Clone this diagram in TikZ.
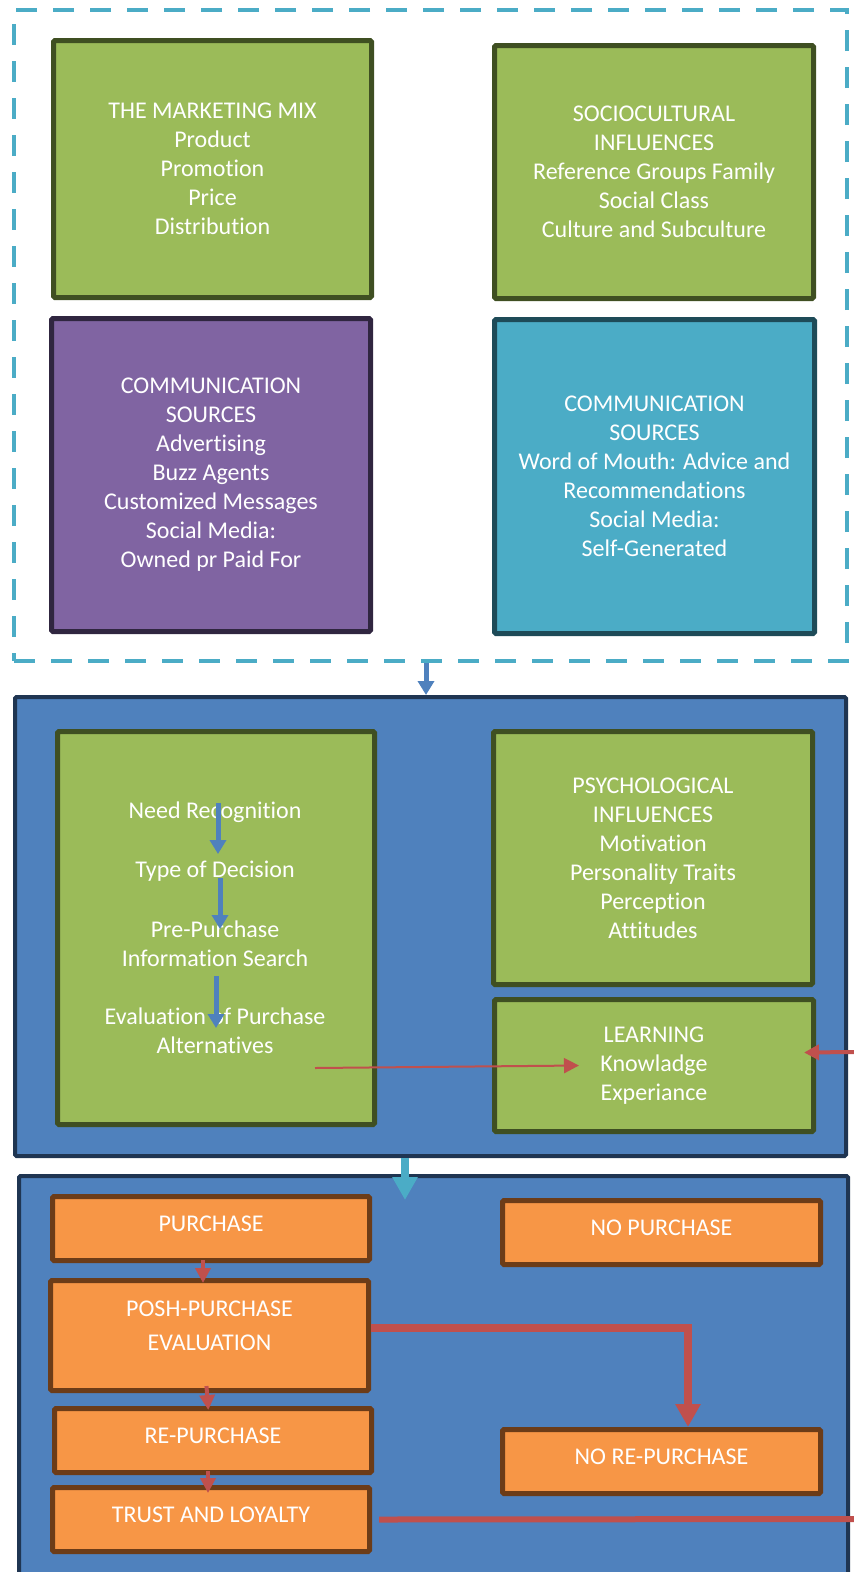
\documentclass[tikz,border=0pt]{standalone}
\usepackage{fontspec}
\setmainfont{Carlito}[Ligatures=NoCommon]
\usetikzlibrary{arrows.meta}

\definecolor{envteal}{HTML}{4BACC6}
\definecolor{mixgreen}{HTML}{9BBB59}
\definecolor{mixgreenline}{HTML}{3F4F22}
\definecolor{srcpurple}{HTML}{8064A2}
\definecolor{srcpurpleline}{HTML}{302640}
\definecolor{srcteal}{HTML}{4BACC6}
\definecolor{srctealline}{HTML}{1E4B58}
\definecolor{stageblue}{HTML}{4F81BD}
\definecolor{stageblueline}{HTML}{1F3552}
\definecolor{outorange}{HTML}{F79646}
\definecolor{outorangeline}{HTML}{6C3C18}
\definecolor{flowred}{HTML}{C0504D}

\begin{document}
\begin{tikzpicture}[x=1pt,y=-1pt,
  box/.style={draw,line width=5pt,rounded corners=1.5pt,text=white,align=center,inner sep=0pt,font=\fontsize{24}{29}\selectfont},
  greenbox/.style={box,fill=mixgreen,draw=mixgreenline},
  purplebox/.style={box,fill=srcpurple,draw=srcpurpleline},
  tealbox/.style={box,fill=srcteal,draw=srctealline},
  stagebox/.style={draw=stageblueline,fill=stageblue,line width=4pt,rounded corners=1.5pt},
  orangebox/.style={draw=outorangeline,fill=outorange,line width=5pt,rounded corners=1.5pt,text=white,inner sep=0pt,
    text depth=9pt,font=\fontsize{24}{29}\selectfont,minimum width=317pt,minimum height=64pt},
  boxtext/.style={text=white,align=center,inner sep=0pt,font=\fontsize{24}{29}\selectfont},
  envframe/.style={draw=envteal,line width=4pt,dash pattern=on 21pt off 16pt},
  bluearrow/.style={draw=stageblue,line width=5pt,-{Triangle[width=16pt,length=14pt]}},
  redthin/.style={draw=flowred,line width=2pt,-{Triangle[width=15pt,length=15pt]}},
  redarrow/.style={draw=flowred,line width=4pt,-{Triangle[width=15pt,length=15pt]}},
  redthick/.style={draw=flowred,line width=7.5pt,-{Triangle[width=24pt,length=23pt]}}]
  \useasboundingbox (0,0) rectangle (854,1572);
  \clip (0,0) rectangle (854,1572);

  % 外部影响
  \node[envframe,minimum width=833pt,minimum height=651pt] (env) at (430.5,335.5) {};
  \node[greenbox,minimum width=318pt,minimum height=257pt] (mix) at (212.5,169) {THE MARKETING MIX\\Product\\Promotion\\Price\\Distribution};
  \node[greenbox,minimum width=319pt,minimum height=253pt] (socio) at (654,172) {SOCIOCULTURAL\\INFLUENCES\\Reference Groups Family\\Social Class\\Culture and Subculture};
  \node[purplebox,minimum width=319pt,minimum height=313pt] (firm) at (211,475) {COMMUNICATION\\SOURCES\\Advertising\\Buzz Agents\\Customized Messages\\Social Media:\\Owned pr Paid For};
  \node[tealbox,minimum width=320pt,minimum height=314pt] (peer) at (654.5,476.5) {COMMUNICATION\\SOURCES\\Word of Mouth: Advice and\\Recommendations\\Social Media:\\Self-Generated};

  % 决策过程
  \node[stagebox,minimum width=831pt,minimum height=459pt] (proc) at (430.5,926.5) {};
  \node[greenbox,minimum width=317pt,minimum height=393pt] (steps) at (216,928) {};
  \node[boxtext] (need) at (215,812) {Need Recognition};
  \node[boxtext] (type) at (215,871) {Type of Decision};
  \node[boxtext] (pre) at (215,943.5) {Pre-Purchase\\Information Search};
  \node[boxtext] (eval) at (215,1031) {Evaluation of Purchase\\Alternatives};
  \node[greenbox,minimum width=319pt,minimum height=253pt] (psych) at (653,858) {PSYCHOLOGICAL\\INFLUENCES\\Motivation\\Personality Traits\\Perception\\Attitudes};
  \node[greenbox,minimum width=319pt,minimum height=132pt] (learn) at (654,1065.5) {LEARNING\\Knowladge\\Experiance};
  \coordinate (back) at (854,1052);

  \draw[bluearrow] ([xshift=-4.5pt]env.south) -- ([xshift=-4.5pt]proc.north);
  \draw[bluearrow] ([xshift=3pt,yshift=9pt]need.center) -- ([xshift=3pt,yshift=17pt]type.center);
  \draw[bluearrow] ([xshift=5pt,yshift=-7pt]type.center) -- ([xshift=5pt,yshift=14.5pt]pre.center);
  \draw[bluearrow] ([xshift=1pt,yshift=-32.5pt]pre.center) -- ([xshift=1pt,yshift=3pt]eval.center);
  \draw[redthin] ([xshift=-62pt,yshift=59pt]steps.south east) -- ([xshift=87pt]learn.west);
  \draw[redarrow] (back) -- ([xshift=-12pt,yshift=13pt]learn.east);

  % 购买后
  \node[stagebox,minimum width=829pt,minimum height=424pt] (post) at (433.5,1388) {};
  \draw[draw=envteal,line width=8pt,-{Triangle[width=24pt,length=23pt]}] ([xshift=-25.5pt]proc.south) -- ([xshift=-28.5pt,yshift=-26pt]post.north);
  \node[orangebox] (buy) at (211,1228.5) {PURCHASE};
  \node[orangebox,minimum width=318pt] (nobuy) at (661.5,1232.5) {NO PURCHASE};
  \node[orangebox,minimum width=318pt,minimum height=110pt] (posh) at (209.5,1335.5) {};
  \node[boxtext] (poshtext) at ([yshift=9.5pt]posh.center) {POSH-PURCHASE\\[5pt]EVALUATION};
  \node[orangebox] (rebuy) at (213,1440.5) {RE-PURCHASE};
  \node[orangebox,minimum width=318pt] (norebuy) at (661.5,1461.5) {NO RE-PURCHASE};
  \node[orangebox] (trust) at (211,1519.5) {TRUST AND LOYALTY};
  \coordinate (loyal) at (854,1519);

  \draw[redarrow,shorten <=-3pt,shorten >=-5pt] ([xshift=-8pt]buy.south) -- ([xshift=-6.5pt]posh.north);
  \draw[redarrow,shorten <=-7pt,shorten >=-4pt] ([xshift=-2.5pt]posh.south) -- ([xshift=-5pt]rebuy.north);
  \draw[redarrow,shorten <=-4pt,shorten >=-8pt] ([xshift=-5pt]rebuy.south) -- ([xshift=-3pt]trust.north);
  \draw[redthick] ([yshift=7.5pt]posh.east) -| ([xshift=26.5pt]norebuy.north);
  \draw[draw=flowred,line width=6pt] ([xshift=7pt]trust.east) -- (loyal);
\end{tikzpicture}
\end{document}
